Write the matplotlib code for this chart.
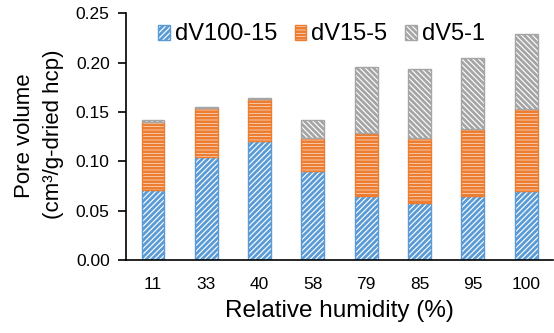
import matplotlib.pyplot as plt
import numpy as np

plt.rcParams['font.family'] = ['Liberation Sans', 'DejaVu Sans']
plt.rcParams['hatch.linewidth'] = 2.0

rh = ["11", "33", "40", "58", "79", "85", "95", "100"]
dv100_15 = [0.071, 0.104, 0.121, 0.090, 0.065, 0.058, 0.065, 0.070]
dv15_5 = [0.069, 0.050, 0.042, 0.034, 0.064, 0.066, 0.068, 0.083]
dv5_1 = [0.002, 0.001, 0.001, 0.018, 0.067, 0.070, 0.072, 0.076]

fig, ax = plt.subplots(figsize=(5.54, 3.33), dpi=100)
fig.subplots_adjust(left=0.228, right=0.998, top=0.96, bottom=0.219)

x = np.arange(len(rh))
w = 0.43
blue, orange, gray = "#5B9BD5", "#ED7D31", "#A5A5A5"

b1 = np.array(dv100_15)
b2 = b1 + np.array(dv15_5)

ax.bar(x, dv100_15, w, color="white", edgecolor=blue, hatch="//////", lw=1, label="dV100-15")
ax.bar(x, dv15_5, w, bottom=b1, color="white", edgecolor=orange, hatch="-----", lw=1, label="dV15-5")
ax.bar(x, dv5_1, w, bottom=b2, color="white", edgecolor=gray, hatch="\\\\\\\\\\\\", lw=1, label="dV5-1")

ax.set_xlim(-0.5, 7.5)
ax.set_ylim(0, 0.25)
ax.set_yticks(np.arange(0, 0.251, 0.05))
ax.set_yticklabels([f"{v:.2f}" for v in np.arange(0, 0.251, 0.05)])
ax.set_xticks(x)
ax.set_xticklabels(rh)
ax.tick_params(axis="x", length=0, pad=12, labelsize=12.5)
ax.tick_params(axis="y", length=6, width=1.2, pad=6, labelsize=12.5)
for s in ["top", "right"]:
    ax.spines[s].set_visible(False)
ax.spines["left"].set_linewidth(1.2)
ax.spines["bottom"].set_linewidth(1.2)

ax.set_xlabel("Relative humidity (%)", fontsize=17.5, labelpad=6)

# two-line y label, each line placed separately
fig.text(25 / 554, 1 - 136 / 333, "Pore volume", rotation=90, fontsize=16,
         ha="center", va="center")
fig.text(54 / 554, 1 - 134 / 333, "(cm³/g-dried hcp)", rotation=90, fontsize=16,
         ha="center", va="center")

ax.legend(loc="upper center", ncol=3, frameon=False, fontsize=17,
          handlelength=0.5, handleheight=0.6, handletextpad=0.2, columnspacing=0.75,
          bbox_to_anchor=(0.457, 1.045))

plt.savefig("out.png", dpi=100)
